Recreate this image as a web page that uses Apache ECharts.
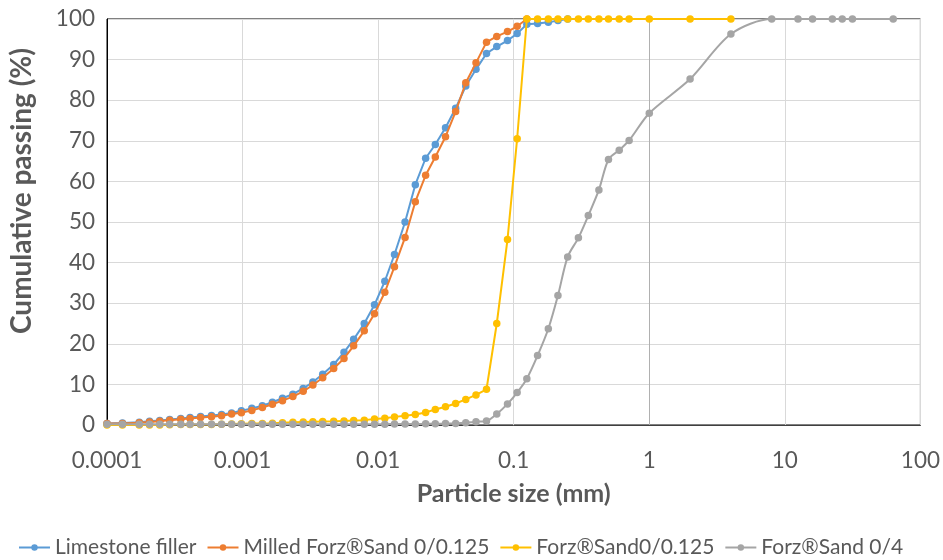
<!DOCTYPE html>
<html>
<head>
<meta charset="utf-8">
<script src="https://cdn.jsdelivr.net/npm/echarts@6/dist/echarts.min.js"></script>
<style>
  html, body { margin: 0; padding: 0; background: #fff; }
  #chart { width: 943px; height: 560px; }
</style>
</head>
<body>
<div id="chart"></div>
<script>
// Particle size distributions (size in mm, cumulative passing in %)
const xTickLabels = ['0.0001', '0.001', '0.01', '0.1', '1', '10', '100'];
const xTitle = 'Particle size (mm)';
const yTitle = 'Cumulative passing (%)';

const limestoneSize = [0.0001, 0.00013, 0.000173, 0.000206, 0.000245, 0.00029, 0.00035, 0.00041, 0.00049, 0.00059,
  0.0007, 0.00083, 0.00098, 0.00117, 0.0014, 0.00166, 0.00197, 0.00235, 0.0028, 0.0033,
  0.0039, 0.0047, 0.0056, 0.0066, 0.0079, 0.0094, 0.0112, 0.0132, 0.0158, 0.0188,
  0.0224, 0.0264, 0.0314, 0.0373, 0.0443, 0.0527, 0.063, 0.075, 0.09, 0.106,
  0.125, 0.15, 0.18, 0.212, 0.25];
const limestonePassing = [0.4, 0.5, 0.65, 0.9, 1.1, 1.35, 1.6, 1.85, 2.1, 2.35,
  2.6, 2.95, 3.5, 4.1, 4.75, 5.6, 6.6, 7.6, 9.0, 10.6,
  12.5, 14.9, 17.9, 21.1, 25.0, 29.6, 35.4, 42.0, 50.0, 59.2,
  65.7, 69.1, 73.2, 78.0, 83.5, 87.6, 91.5, 93.2, 94.7, 96.4,
  98.7, 98.9, 99.2, 99.6, 100];

const milledSize = [0.0001, 0.00013, 0.000173, 0.000206, 0.000245, 0.00029, 0.00035, 0.00041, 0.00049, 0.00059,
  0.0007, 0.00083, 0.00098, 0.00117, 0.0014, 0.00166, 0.00197, 0.00235, 0.0028, 0.0033,
  0.0039, 0.0047, 0.0056, 0.0066, 0.0079, 0.0094, 0.0112, 0.0132, 0.0158, 0.0188,
  0.0224, 0.0264, 0.0314, 0.0373, 0.0443, 0.0527, 0.063, 0.075, 0.09, 0.106,
  0.125];
const milledPassing = [0.4, 0.4, 0.55, 0.75, 0.95, 1.2, 1.4, 1.6, 1.85, 2.05,
  2.3, 2.7, 3.0, 3.6, 4.3, 5.1, 6.0, 7.0, 8.3, 9.85,
  11.65, 13.9, 16.4, 19.5, 23.2, 27.4, 32.7, 39.0, 46.2, 55.0,
  61.5, 66.0, 71.0, 77.2, 84.3, 89.2, 94.3, 95.7, 96.9, 98.2,
  100];

const sand0125Size = [0.0001, 0.00013, 0.000173, 0.000206, 0.000245, 0.00029, 0.00035, 0.00041, 0.00049, 0.00059,
  0.0007, 0.00083, 0.00098, 0.00117, 0.0014, 0.00166, 0.00197, 0.00235, 0.0028, 0.0033,
  0.0039, 0.0047, 0.0056, 0.0066, 0.0079, 0.0094, 0.0112, 0.0132, 0.0158, 0.0188,
  0.0224, 0.0264, 0.0314, 0.0373, 0.0443, 0.0527, 0.063, 0.075, 0.09, 0.106,
  0.125, 0.15, 0.18, 0.212, 0.25, 0.3, 0.355, 0.425, 0.5, 0.6,
  0.71, 1, 2, 4];
const sand0125Passing = [0, 0, 0, 0, 0, 0.05, 0.1, 0.1, 0.15, 0.15,
  0.2, 0.25, 0.3, 0.35, 0.4, 0.45, 0.55, 0.65, 0.75, 0.8,
  0.85, 0.9, 1.0, 1.1, 1.2, 1.45, 1.65, 2.0, 2.3, 2.6,
  3.1, 3.8, 4.5, 5.3, 6.3, 7.4, 8.8, 25.0, 45.7, 70.5,
  100, 100, 100, 100, 100, 100, 100, 100, 100, 100,
  100, 100, 100, 100];

const sand04Size = [0.0001, 0.00013, 0.000173, 0.000206, 0.000245, 0.00029, 0.00035, 0.00041, 0.00049, 0.00059,
  0.0007, 0.00083, 0.00098, 0.00117, 0.0014, 0.00166, 0.00197, 0.00235, 0.0028, 0.0033,
  0.0039, 0.0047, 0.0056, 0.0066, 0.0079, 0.0094, 0.0112, 0.0132, 0.0158, 0.0188,
  0.0224, 0.0264, 0.0314, 0.0373, 0.0443, 0.0527, 0.063, 0.075, 0.09, 0.106,
  0.125, 0.15, 0.18, 0.212, 0.25, 0.3, 0.355, 0.425, 0.5, 0.6,
  0.71, 1, 2, 4, 8, 12.5, 16, 22.4, 26.5, 31.5,
  63];
const sand04Passing = [0.2, 0.2, 0.2, 0.2, 0.2, 0.2, 0.2, 0.2, 0.2, 0.2,
  0.2, 0.2, 0.2, 0.2, 0.2, 0.2, 0.2, 0.2, 0.2, 0.2,
  0.2, 0.2, 0.2, 0.2, 0.2, 0.2, 0.2, 0.25, 0.25, 0.25,
  0.3, 0.3, 0.35, 0.4, 0.55, 0.8, 1.0, 2.7, 5.2, 8.0,
  11.4, 17.1, 23.7, 31.9, 41.4, 46.1, 51.6, 57.9, 65.4, 67.7,
  70.1, 76.8, 85.2, 96.3, 100, 100, 100, 100, 100, 100,
  100];

const seriesNames = ['Limestone filler', 'Milled Forz\u00aeSand 0/0.125', 'Forz\u00aeSand0/0.125', 'Forz\u00aeSand 0/4'];
const seriesColors = ['#5B9BD5', '#ED7D31', '#FFC000', '#A5A5A5'];

const pairs = (xs, ys) => xs.map((x, i) => [x, ys[i]]);
const seriesData = [
  pairs(limestoneSize, limestonePassing),
  pairs(milledSize, milledPassing),
  pairs(sand0125Size, sand0125Passing),
  pairs(sand04Size, sand04Passing)
];

const FONT = 'Lato, "Open Sans", sans-serif';
const TEXT = '#595959';

const chart = echarts.init(document.getElementById('chart'), null, { renderer: 'canvas' });

chart.setOption({
  animation: false,
  backgroundColor: '#ffffff',
  grid: {
    left: 107, right: 22, top: 19, bottom: 135,
    show: true, borderColor: '#000000', borderWidth: 1, backgroundColor: 'transparent'
  },
  legend: {
    top: 537,
    left: 18,
    padding: 0,
    itemGap: 10,
    itemWidth: 31,
    itemHeight: 8,
    textStyle: { color: TEXT, fontSize: 21, fontFamily: FONT },
    data: seriesNames
  },
  // vertical axis title, drawn as rotated text
  graphic: [{
    type: 'text',
    x: 22,
    y: 191,
    rotation: Math.PI / 2,
    silent: true,
    style: {
      text: yTitle,
      fill: TEXT,
      font: 'bold 28px ' + FONT,
      align: 'center',
      verticalAlign: 'middle'
    }
  }],
  xAxis: {
    type: 'log',
    logBase: 10,
    min: 0.0001,
    max: 100,
    name: xTitle,
    nameLocation: 'middle',
    nameGap: 56,
    nameTextStyle: { color: TEXT, fontSize: 25, fontWeight: 'bold', fontFamily: FONT },
    axisLine: { show: true, lineStyle: { color: '#404040', width: 1 } },
    axisTick: { show: false },
    minorTick: { show: false },
    axisLabel: {
      color: TEXT, fontSize: 22.5, fontFamily: FONT, margin: 24,
      formatter: (v) => xTickLabels[Math.round(Math.log10(v)) + 4]
    },
    splitLine: { show: true, lineStyle: { color: '#d9d9d9', width: 1 } }
  },
  yAxis: {
    type: 'value',
    min: 0,
    max: 100,
    interval: 10,
    axisLine: { show: true, lineStyle: { color: '#000000', width: 1 } },
    axisTick: { show: false },
    axisLabel: { color: TEXT, fontSize: 22.5, fontFamily: FONT, margin: 12 },
    splitLine: { show: true, lineStyle: { color: '#d9d9d9', width: 1 } }
  },
  series: seriesNames.map((name, i) => ({
    name: name,
    type: 'line',
    data: seriesData[i],
    symbol: 'circle',
    symbolSize: 7.5,
    showSymbol: true,
    smooth: i === 3 ? 0.3 : false,
    color: seriesColors[i],
    lineStyle: { width: 2, color: seriesColors[i] },
    itemStyle: { color: seriesColors[i], borderWidth: 0 },
    z: 2 + i,
    markLine: i === 0 ? {
      silent: true,
      symbol: 'none',
      label: { show: false },
      lineStyle: { color: '#b0b0b0', width: 1, type: 'solid' },
      z: 1,
      data: [{ xAxis: 1 }]
    } : undefined
  }))
});
</script>
</body>
</html>
